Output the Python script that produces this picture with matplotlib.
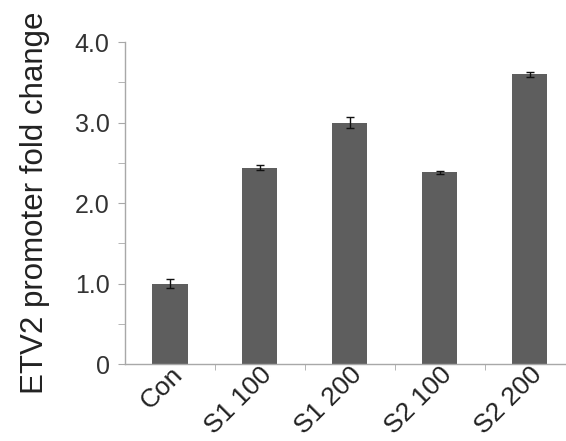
import numpy as np
import matplotlib.pyplot as plt
from matplotlib.ticker import MultipleLocator, FixedLocator

# fold change of ETV2 promoter activity per treatment
groups = ['Con', 'S1 100', 'S1 200', 'S2 100', 'S2 200']
fold_change = [1.0, 2.44, 3.0, 2.38, 3.60]
sem = [0.05, 0.03, 0.07, 0.02, 0.03]

plt.rcParams['font.family'] = ['Liberation Sans', 'DejaVu Sans']

fig = plt.figure(figsize=(5.66, 4.41), dpi=100)
ax = fig.add_axes([0.2208, 0.1746, 0.779, 0.730])

x = np.arange(len(groups))
ax.bar(x, fold_change, width=0.39, color='#5e5e5e', zorder=2)
ax.errorbar(x, fold_change, yerr=sem, fmt='none', ecolor='#111111',
            elinewidth=1.0, capsize=3, capthick=1.0, zorder=3)

ax.set_xlim(-0.5, 4.4)
ax.set_ylim(0, 4.0)

ax.set_yticks([0, 1, 2, 3, 4])
ax.set_yticklabels(['0', '1.0', '2.0', '3.0', '4.0'])
ax.yaxis.set_minor_locator(MultipleLocator(0.5))

ax.set_xticks(x)
ax.set_xticklabels(groups, rotation=45, ha='right', rotation_mode='anchor')
ax.xaxis.set_minor_locator(FixedLocator([0.5, 1.5, 2.5, 3.5]))

for side in ['top', 'right']:
    ax.spines[side].set_visible(False)
for side in ['left', 'bottom']:
    ax.spines[side].set_color('#a8a8a8')
    ax.spines[side].set_linewidth(1.0)

ax.tick_params(axis='y', which='both', length=5, color='#a8a8a8',
               labelsize=18, labelcolor='#333333', pad=6)
ax.tick_params(axis='x', which='major', length=0, labelsize=19,
               labelcolor='#222222', pad=-1)
ax.tick_params(axis='x', which='minor', length=4, color='#a8a8a8')

ax.set_ylabel('ETV2 promoter fold change', fontsize=22.5, color='#222222',
              labelpad=18)

fig.savefig('out.png', dpi=100)
